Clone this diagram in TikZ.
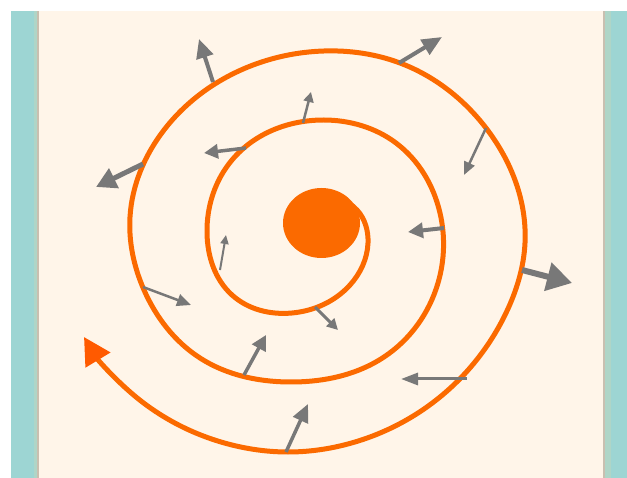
\documentclass[tikz,border=0pt]{standalone}
\usetikzlibrary{arrows.meta,hobby}
\definecolor{cream}{HTML}{FFF5E9}
\definecolor{teal1}{HTML}{9DD5D3}
\definecolor{stripe}{HTML}{AFD5C7}
\definecolor{edgec}{HTML}{C9BFB0}
\definecolor{spiral}{HTML}{FB6A00}
\definecolor{tipc}{HTML}{FF5A00}
\definecolor{arrg}{HTML}{787878}
\tikzset{
  garrow/.style n args={3}{draw=arrg, line width=#1pt, -{Triangle[length=#2pt,width=#3pt]}},
}
\begin{document}
\begin{tikzpicture}[x=1pt,y=-1pt]
\useasboundingbox (0,0) rectangle (627,478);
\fill[white] (0,0) rectangle (627,478);
% side panels
\fill[teal1] (11,11) rectangle (627,478);
\fill[stripe] (33.5,11) rectangle (37,478);
\fill[edgec] (37,11) rectangle (39,478);
\fill[edgec] (602.5,11) rectangle (604.5,478);
\fill[stripe] (604.5,11) rectangle (611,478);
\fill[cream] (39,11) rectangle (602.5,478);
% central disk
\fill[spiral] (321.5,223) ellipse [x radius=38.5, y radius=35];
% spiral
\draw[spiral, line width=5pt, line cap=round, use Hobby shortcut,
      -{Triangle[length=27pt,width=28pt,color=tipc]}]
  (338,199) .. (357,210) .. (368,243) .. (350,285) .. (292,313) .. (232,295)
  .. (207,233) .. (232,160) .. (324,120) .. (396,143) .. (440,213) .. (438,283)
  .. (384,357) .. (292,382) .. (200,358) .. (144,290) .. (130,217) .. (164,130)
  .. (248,67) .. (324,51) .. (400,63) .. (486,128) .. (525,243) .. (506,313)
  .. (440,397) .. (344,445) .. (288,452) .. (232,445) .. (136,397) .. (84,337);
% grey arrows
\coordinate (t1) at (213,82);  \coordinate (h1) at (199,39);
\coordinate (t2) at (399,63);  \coordinate (h2) at (442,37);
\coordinate (t3) at (303,123); \coordinate (h3) at (311,92);
\coordinate (t4) at (246,148); \coordinate (h4) at (204,153);
\coordinate (t5) at (143,164); \coordinate (h5) at (96,187);
\coordinate (t6) at (486,128); \coordinate (h6) at (464,175);
\coordinate (t7) at (444,228); \coordinate (h7) at (408,232);
\coordinate (t8) at (220,270); \coordinate (h8) at (226,235);
\coordinate (t9) at (522,270); \coordinate (h9) at (572,283);
\coordinate (t10) at (143,287); \coordinate (h10) at (191,305);
\coordinate (t11) at (315,307); \coordinate (h11) at (338,330);
\coordinate (t12) at (244,375); \coordinate (h12) at (266,335);
\coordinate (t13) at (467,379); \coordinate (h13) at (401,379);
\coordinate (t14) at (286,452); \coordinate (h14) at (308,404);
\draw[garrow={4}{19}{17}] (t1) -- (h1);
\draw[garrow={4}{20}{17}] (t2) -- (h2);
\draw[garrow={2.5}{10}{10}] (t3) -- (h3);
\draw[garrow={3.5}{14}{14}] (t4) -- (h4);
\draw[garrow={5}{20}{21}] (t5) -- (h5);
\draw[garrow={2.5}{13}{11}] (t6) -- (h6);
\draw[garrow={4}{15}{15}] (t7) -- (h7);
\draw[garrow={2}{9}{8}] (t8) -- (h8);
\draw[garrow={6}{25}{28}] (t9) -- (h9);
\draw[garrow={2.5}{14}{12}] (t10) -- (h10);
\draw[garrow={3}{11}{11}] (t11) -- (h11);
\draw[garrow={3.5}{15}{15}] (t12) -- (h12);
\draw[garrow={3}{17}{12}] (t13) -- (h13);
\draw[garrow={3.5}{18}{16}] (t14) -- (h14);
\end{tikzpicture}
\end{document}
